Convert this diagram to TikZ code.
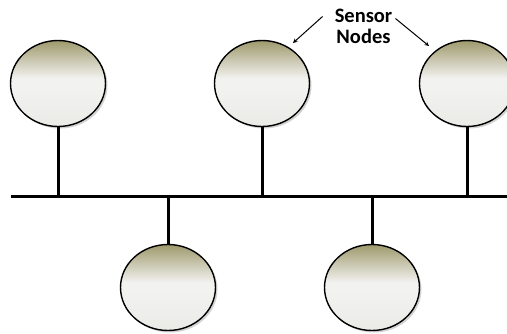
\documentclass[tikz,border=0pt]{standalone}
\usepackage{fontspec}
\usepackage{tikz}
\usetikzlibrary{shapes.geometric,shadows}
\newfontfamily\lblfont{Carlito}[BoldFont={Carlito Bold}]
\definecolor{oliveTop}{RGB}{158,153,108}
\definecolor{paleMid}{RGB}{242,242,240}
\definecolor{paleBot}{RGB}{234,234,231}
\pgfdeclareverticalshading{sensorshade}{100bp}{color(0bp)=(paleBot); color(25bp)=(paleBot); color(48bp)=(paleMid); color(53bp)=(paleMid); color(75bp)=(oliveTop); color(100bp)=(oliveTop)}

\begin{document}
\begin{tikzpicture}[x=1pt, y=-1pt,
			sensor/.style={
				ellipse,
				draw,
				line width = 1.4pt,
				minimum width = 95pt,
				minimum height = 86pt,
				inner sep = 0pt,
				shading = sensorshade,
				drop shadow = {opacity = .35, fill = gray,
					shadow xshift = 2pt, shadow yshift = -2pt}},
			stem/.style={line width = 3pt},
			pointer/.style={->, >=stealth, line width = 1pt}]
			\useasboundingbox (0, 0) rectangle (507, 333);
			% bus
			\coordinate (busL) at (11, 196);
			\coordinate (busR) at (507, 196);
			\draw[stem] (busL) -- (busR);
			% nodes above the bus
			\node at (58, 83.5) [sensor] (s1) {};
			\node at (262, 83.5) [sensor] (s2) {};
			\node at (467, 83.5) [sensor] (s3) {};
			% nodes below the bus
			\node at (168, 287.5) [sensor] (s4) {};
			\node at (372, 287.5) [sensor] (s5) {};
			\draw[stem] (s1.south) -- (s1.south |- busL);
			\draw[stem] (s2.south) -- (s2.south |- busL);
			\draw[stem] (s3.south) -- (s3.south |- busL);
			\draw[stem] (s4.north) -- (s4.north |- busL);
			\draw[stem] (s5.north) -- (s5.north |- busL);
			% label
			\node at (363.5, 26) [align = center, inner sep = 0pt,
				font = \lblfont\bfseries\fontsize{20.5}{21}\selectfont] (lbl) {Sensor\\Nodes};
			\coordinate (tipL) at (293, 43);
			\coordinate (tipR) at (429, 46);
			\draw[pointer] (lbl.north west) ++(-12, 8) coordinate (srcL) -- (tipL);
			\draw[pointer] (lbl.north east) ++(3, 10) coordinate (srcR) -- (tipR);
			\end{tikzpicture}
\end{document}
